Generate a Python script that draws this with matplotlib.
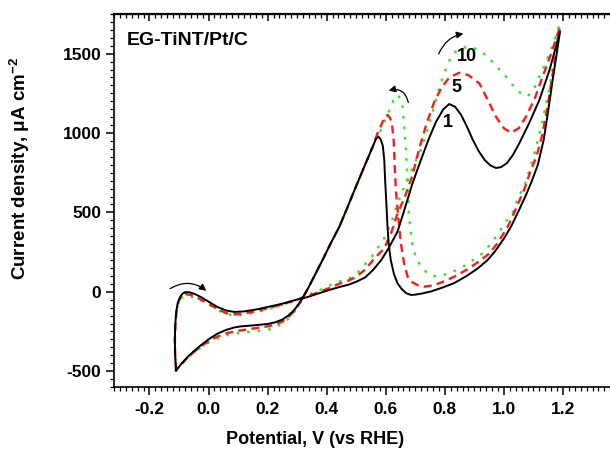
import numpy as np
import matplotlib
matplotlib.use('Agg')
import matplotlib.pyplot as plt
from matplotlib.patches import FancyArrowPatch
from matplotlib.ticker import MultipleLocator

plt.rcParams['font.family'] = ['Liberation Sans', 'DejaVu Sans']
plt.rcParams['font.weight'] = 'bold'
plt.rcParams['axes.unicode_minus'] = False
plt.rcParams['mathtext.fontset'] = 'custom'
plt.rcParams['mathtext.rm'] = 'Liberation Sans:bold'
plt.rcParams['mathtext.default'] = 'rm'

# cycle 1 (black), scan order: forward then reverse
v1 = [-0.110, -0.113, -0.114, -0.113, -0.110, -0.105, -0.097, -0.088, -0.078, -0.065,
      -0.045, -0.026, 0.000, 0.030, 0.060, 0.087, 0.120, 0.160, 0.200, 0.250,
      0.290, 0.330, 0.370, 0.410, 0.443, 0.475, 0.499, 0.530, 0.556, 0.585,
      0.612, 0.640, 0.663, 0.690, 0.719, 0.745, 0.770, 0.795, 0.815, 0.835,
      0.855, 0.875, 0.894, 0.915, 0.935, 0.955, 0.973, 0.990, 1.010, 1.030,
      1.052, 1.085, 1.120, 1.155, 1.190,
      1.178, 1.165, 1.150, 1.135, 1.115, 1.095, 1.075, 1.050, 1.024, 1.000,
      0.970, 0.945, 0.910, 0.870, 0.832, 0.790, 0.753, 0.720, 0.700, 0.686,
      0.670, 0.655, 0.640, 0.628, 0.617, 0.610, 0.606, 0.602, 0.598, 0.595,
      0.590, 0.583, 0.575, 0.566, 0.556, 0.530, 0.499, 0.470, 0.443, 0.415,
      0.390, 0.360, 0.335, 0.310, 0.290, 0.270, 0.250, 0.225, 0.200, 0.150,
      0.110, 0.087, 0.060, 0.030, 0.000, -0.026, -0.050, -0.071, -0.090, -0.110]
j1 = [-495, -400, -300, -222, -140, -75, -35, -12, -2, -3,
      -15, -33, -62, -96, -118, -127, -124, -112, -96, -75,
      -54, -36, -12, 12, 30, 45, 62, 90, 135, 200,
      282, 380, 515, 680, 830, 960, 1070, 1150, 1183, 1165,
      1115, 1040, 960, 885, 830, 795, 780, 785, 810, 860,
      935, 1060, 1208, 1400, 1639,
      1490, 1334, 1140, 960, 800, 700, 610, 510, 410, 335,
      255, 200, 145, 95, 55, 25, 2, -12, -18, -20,
      -10, 15, 53, 110, 200, 300, 410, 560, 700, 830,
      920, 960, 978, 960, 914, 800, 662, 530, 410, 310,
      215, 105, 15, -65, -115, -150, -175, -193, -203, -212,
      -218, -225, -240, -264, -300, -337, -375, -411, -450, -495]

# cycle 5 (red)
v5 = [-0.110, -0.113, -0.114, -0.112, -0.108, -0.100, -0.090, -0.078, -0.060, -0.040,
      -0.020, 0.000, 0.030, 0.060, 0.090, 0.120, 0.160, 0.200, 0.250, 0.290,
      0.330, 0.370, 0.410, 0.443, 0.475, 0.499, 0.530, 0.556, 0.595, 0.620,
      0.640, 0.665, 0.690, 0.713, 0.740, 0.765, 0.790, 0.815, 0.849, 0.880,
      0.917, 0.945, 0.973, 1.000, 1.024, 1.050, 1.075, 1.105, 1.131, 1.160,
      1.190,
      1.178, 1.165, 1.150, 1.130, 1.110, 1.091, 1.070, 1.040, 1.013, 0.980,
      0.950, 0.922, 0.880, 0.832, 0.790, 0.760, 0.730, 0.710, 0.690, 0.674,
      0.662, 0.651, 0.643, 0.635, 0.630, 0.627, 0.622, 0.615, 0.606, 0.596,
      0.585, 0.572, 0.556, 0.530, 0.499, 0.470, 0.443, 0.415, 0.390, 0.360,
      0.335, 0.310, 0.290, 0.270, 0.250, 0.225, 0.200, 0.150, 0.110, 0.087,
      0.060, 0.030, 0.000, -0.026, -0.050, -0.071, -0.090, -0.110]
j5 = [-495, -400, -300, -200, -110, -55, -25, -15, -20, -35,
      -55, -75, -108, -135, -142, -137, -122, -104, -80, -56,
      -30, -5, 25, 51, 72, 93, 140, 198, 274, 380,
      494, 600, 730, 900, 1070, 1200, 1290, 1350, 1380, 1365,
      1313, 1210, 1103, 1030, 1002, 1030, 1103, 1220, 1355, 1500,
      1670,
      1520, 1370, 1190, 990, 850, 767, 650, 520, 410, 310,
      240, 200, 145, 95, 60, 40, 32, 40, 60, 95,
      180, 306, 460, 622, 800, 950, 1040, 1095, 1114, 1100,
      1050, 998, 914, 800, 662, 530, 410, 310, 215, 105,
      15, -68, -122, -160, -188, -207, -218, -232, -243, -250,
      -262, -282, -312, -345, -380, -415, -452, -495]

# cycle 10 (green)
v10 = [-0.110, -0.113, -0.114, -0.112, -0.108, -0.100, -0.090, -0.078, -0.060, -0.040,
       -0.020, 0.000, 0.030, 0.060, 0.090, 0.120, 0.160, 0.200, 0.250, 0.290,
       0.330, 0.370, 0.410, 0.443, 0.476, 0.510, 0.556, 0.595, 0.620, 0.640,
       0.663, 0.697, 0.720, 0.745, 0.770, 0.790, 0.810, 0.830, 0.855, 0.880,
       0.910, 0.939, 0.970, 1.007, 1.035, 1.063, 1.080, 1.100, 1.120, 1.150,
       1.170, 1.190,
       1.178, 1.165, 1.150, 1.130, 1.105, 1.069, 1.046, 1.035, 1.007, 0.962,
       0.928, 0.888, 0.854, 0.815, 0.776, 0.747, 0.719, 0.702, 0.691, 0.685,
       0.678, 0.674, 0.668, 0.662, 0.657, 0.648, 0.640, 0.630, 0.617, 0.600,
       0.584, 0.562, 0.530, 0.499, 0.470, 0.443, 0.415, 0.390, 0.360, 0.335,
       0.310, 0.290, 0.270, 0.250, 0.225, 0.200, 0.150, 0.110, 0.080, 0.050,
       0.020, 0.000, -0.026, -0.050, -0.071, -0.090, -0.110]
j10 = [-495, -400, -300, -200, -115, -62, -35, -28, -30, -42,
       -60, -80, -115, -140, -150, -145, -130, -110, -82, -56,
       -25, 5, 40, 65, 83, 130, 230, 337, 440, 557,
       662, 809, 900, 1040, 1210, 1334, 1440, 1505, 1535, 1544,
       1528, 1492, 1430, 1355, 1290, 1240, 1232, 1270, 1355, 1480,
       1580, 1693,
       1560, 1410, 1250, 1070, 880, 662, 589, 515, 442, 316,
       243, 190, 148, 117, 95, 106, 158, 221, 284, 368,
       494, 700, 900, 1050, 1166, 1220, 1240, 1225, 1166, 1090,
       1019, 950, 800, 662, 530, 410, 310, 215, 105, 15,
       -70, -128, -170, -200, -225, -240, -250, -258, -265, -280,
       -300, -320, -352, -385, -418, -455, -495]

# curve labels: text, V, j
labels = [('10', 0.874, 1481), ('5', 0.841, 1286), ('1', 0.810, 1066)]
# scan direction arrows: start (V, j), end (V, j), curvature
arrows = [((-0.138, 10), (0.000, -5), -0.38),
          ((0.678, 1175), (0.601, 1262), 0.6),
          ((0.776, 1482), (0.872, 1630), -0.3)]

fig = plt.figure(figsize=(6.1, 4.54), dpi=100)
ax = fig.add_axes([114/610, 67/454, 498/610, 373/454])

ax.plot(v1, j1, color='black', lw=1.4, zorder=4)
ax.plot(v5, j5, color='#ff1a1a', lw=1.7, linestyle=(0, (3.4, 2.2)), zorder=3)
ax.plot(v10, j10, color='#22ee22', lw=1.9, linestyle=(0, (0.2, 3.8)),
        dash_capstyle='round', zorder=2)

for txt, x, y in labels:
    ax.text(x, y, txt, fontsize=13, fontweight='bold', ha='center', va='center')

for (x0, y0), (x1, y1), rad in arrows:
    ax.add_patch(FancyArrowPatch((x0, y0), (x1, y1),
                                 connectionstyle='arc3,rad=%s' % rad,
                                 arrowstyle='-|>,head_length=4,head_width=2',
                                 lw=0.9, color='black', zorder=5))

ax.text(0.026, 0.93, 'EG-TiNT/Pt/C', transform=ax.transAxes, fontsize=14,
        fontweight='bold', ha='left', va='center')

ax.set_xlim(-0.32, 1.366)
ax.set_ylim(-600, 1750)

ax.xaxis.set_major_locator(MultipleLocator(0.2))
ax.xaxis.set_minor_locator(MultipleLocator(0.02))
ax.yaxis.set_major_locator(MultipleLocator(500))
ax.yaxis.set_minor_locator(MultipleLocator(50))
ax.xaxis.set_major_formatter(plt.FuncFormatter(lambda x, p: '%.1f' % x))

ax.tick_params(which='major', direction='out', length=6, width=1.1, labelsize=12.5)
ax.tick_params(which='minor', direction='out', length=3, width=0.9)
ax.tick_params(axis='x', which='major', pad=5)
ax.tick_params(axis='y', which='major', pad=3)

top = ax.secondary_xaxis('top')
top.xaxis.set_major_locator(MultipleLocator(0.2))
top.xaxis.set_minor_locator(MultipleLocator(0.02))
top.tick_params(which='major', direction='in', length=5, width=1.1, labeltop=False)
top.tick_params(which='minor', direction='in', length=3, width=0.9)

ax.spines['right'].set_visible(False)
for s in ['left', 'bottom']:
    ax.spines[s].set_linewidth(1.2)
top.spines['top'].set_linewidth(1.6)

ax.set_xlabel('Potential, V (vs RHE)', fontsize=13, fontweight='bold')
ax.set_ylabel('Current density, \u03bcA cm$^{-2}$', fontsize=13.5, fontweight='bold')
ax.xaxis.set_label_coords(0.404, -0.118)
ax.yaxis.set_label_coords(-0.165, 0.585)

fig.savefig('out.png', dpi=100)
